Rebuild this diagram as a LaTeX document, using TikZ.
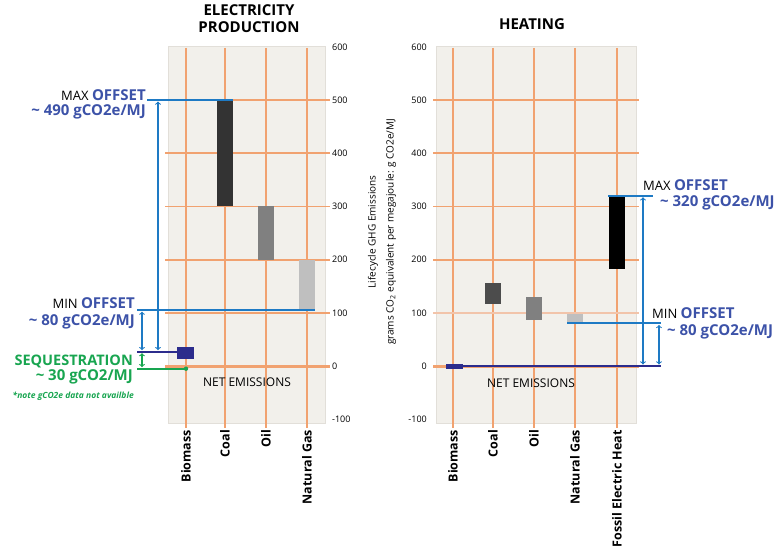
\documentclass[tikz,border=0pt]{standalone}
\usepackage{fontspec}
\setmainfont{Open Sans}
\definecolor{panelbg}{RGB}{242,240,235}
\definecolor{panelrim}{RGB}{226,223,217}
\definecolor{gridorange}{RGB}{241,162,112}
\definecolor{gridpale}{RGB}{242,196,170}
\definecolor{offsetblue}{RGB}{30,122,196}
\definecolor{offsettext}{RGB}{60,82,168}
\definecolor{bionavy}{RGB}{44,44,140}
\definecolor{seqgreen}{RGB}{24,165,80}
\newcommand{\offsetword}[1]{{\fontsize{13}{15}\selectfont #1}\,\,{\fontsize{15}{17}\selectfont\bfseries\color{offsettext}OFFSET}}
\begin{document}
\begin{tikzpicture}[x=1pt, y=0.532pt,
		panel/.style={fill=panelbg, draw=panelrim, line width=0.8pt},
		gridline/.style={draw=gridorange, line width=1.8pt},
		offsetline/.style={draw=offsetblue, line width=2pt},
		gap/.style={draw=offsetblue, line width=1.1pt, <->, shorten <=1.5pt, shorten >=1.5pt},
		lbl/.style={inner sep=0pt},
		title/.style={lbl, align=center, font=\fontsize{15}{17}\selectfont\bfseries},
		cat/.style={lbl, rotate=90, anchor=east, font=\fontsize{12.5}{15}\selectfont\bfseries},
		ticklbl/.style={lbl, font=\fontsize{9}{10}\selectfont},
		amount/.style={lbl, text=offsettext, font=\fontsize{15}{17}\selectfont\bfseries},
		netlbl/.style={lbl, font=\fontsize{12}{14}\selectfont}]
	\useasboundingbox (0,-345.9) rectangle (777,688);
	
	% 背景
	\draw[panel] (168,600) rectangle (325,-107);
	\draw[panel] (436,600) rectangle (636,-107);
	
	% 竖线
	\foreach \x in {186,225,266,307,453,493,534,575,617}
		\draw[gridline] (\x,598) -- (\x,-117);
	
	% 横线
	\foreach \v in {200,300,400,500}{
		\draw[gridline] (165,\v) -- (330,\v);
		\draw[gridline] (433,\v) -- (639,\v);
	}
	\draw[gridline] (165,100) -- (330,100);
	\draw[gridline, draw=gridpale] (433,100) -- (639,100);
	\draw[gridline, line width=3pt] (165,0) -- (330,0);
	\draw[gridline, line width=3pt] (433,0) -- (639,0);
	
	% 刻度
	\foreach \v in {600,500,...,-100}{
		\node[ticklbl, anchor=west] (etick\v) at (332,\v) {\v};
		\node[ticklbl, anchor=east] (htick\v) at (427,\v) {\v};
	}
	
	% 纵轴名称
	\node[lbl, rotate=90, align=center, font=\fontsize{10}{18}\selectfont] (axis) at (382,252)
		{Lifecycle GHG Emissions\\grams CO\textsubscript{2} equivalent per megajoule: g CO2e/MJ};
	
	% 柱
	\foreach \x/\lo/\hi/\c in {217/300/500/black!80, 258/200/300/black!50, 299/105/200/black!25,
		485/117/156/black!70, 526/87/130/black!50, 567/81/98/black!25, 609/183/320/black}
		\fill[\c] (\x,\lo) rectangle (\x+16,\hi);
	\fill[bionavy] (177,13) rectangle (194,36);
	\fill[bionavy] (446,-5) rectangle (463,4);
	
	% 抵消线（电力）
	\coordinate (eMaxA) at (147,500);
	\coordinate (eMaxB) at (233,500);
	\coordinate (eMinA) at (137,105);
	\coordinate (eMinB) at (315,105);
	\coordinate (eBioA) at (137,27);
	\coordinate (eBioB) at (177,27);
	\coordinate (eSeqA) at (137,-5);
	\coordinate (eSeqB) at (186,-5);
	\coordinate (eArr1) at (158,0);
	\coordinate (eArr2) at (142,0);
	\draw[offsetline] (eMaxA) -- (eMaxB);
	\draw[offsetline] (eMinA) -- (eMinB);
	\draw[bionavy, line width=2pt] (eBioA) -- (eBioB);
	\draw[seqgreen, line width=2pt] (eSeqA) -- (eSeqB);
	\fill[seqgreen] (eSeqB) circle (2.2pt);
	\draw[gap] (eMaxA -| eArr1) -- (eBioA -| eArr1);
	\draw[gap] (eMinA -| eArr2) -- (eBioA -| eArr2);
	\draw[gap, draw=seqgreen] (eBioA -| eArr2) -- (eSeqA -| eArr2);
	
	% 抵消线（供热）
	\coordinate (hMaxA) at (608,320);
	\coordinate (hMaxB) at (653,320);
	\coordinate (hMinA) at (567,80);
	\coordinate (hMinB) at (661,80);
	\coordinate (hNetA) at (446,0);
	\coordinate (hNetB) at (661,0);
	\coordinate (hArr1) at (643,0);
	\coordinate (hArr2) at (659,0);
	\draw[offsetline] (hMaxA) -- (hMaxB);
	\draw[offsetline] (hMinA) -- (hMinB);
	\draw[bionavy, line width=2pt] (hNetA) -- (hNetB);
	\draw[gap] (hMaxA -| hArr1) -- (hNetA -| hArr1);
	\draw[gap] (hMinA -| hArr2) -- (hNetA -| hArr2);
	
	% 标题
	\node[title] (elect) at (249,653) {ELECTRICITY\\PRODUCTION};
	\node[title, anchor=base] (heat) at (532,633) {HEATING};
	
	% 文字（电力）
	\node[lbl, anchor=base east] (emaxlbl) at (146,500) {\offsetword{MAX}};
	\node[amount, anchor=base east] (emaxval) at (146,470) {\textasciitilde{} 490 gCO2e/MJ};
	\node[lbl, anchor=base east] (eminlbl) at (135,109) {\offsetword{MIN}};
	\node[amount, anchor=base east] (eminval) at (135,77) {\textasciitilde{} 80 gCO2e/MJ};
	\node[amount, text=seqgreen, font=\fontsize{14.5}{17}\selectfont\bfseries, anchor=base east] (seqlbl) at (133,1) {SEQUESTRATION};
	\node[amount, text=seqgreen, anchor=base east] (seqval) at (133,-28) {\textasciitilde{} 30 gCO2/MJ};
	\node[lbl, text=seqgreen, font=\fontsize{8.5}{10}\selectfont\bfseries\itshape, anchor=base east] (seqnote) at (134,-61) {*note gCO2e data not availble};
	\node[netlbl, anchor=base] (enet) at (247,-37.6) {NET EMISSIONS};
	
	% 文字（供热）
	\node[lbl, anchor=base west] (hmaxlbl) at (643,329.5) {\offsetword{MAX}};
	\node[amount, anchor=base west] (hmaxval) at (660,299) {\textasciitilde{} 320 gCO2e/MJ};
	\node[lbl, anchor=base west] (hminlbl) at (652,90) {\offsetword{MIN}};
	\node[amount, anchor=base west] (hminval) at (667,58) {\textasciitilde{} 80 gCO2e/MJ};
	\node[netlbl, anchor=base] (hnet) at (531,-41) {NET EMISSIONS};
	
	% 类别
	\foreach \x/\name in {186/Biomass, 225/Coal, 266/Oil, 307/Natural Gas}
		\node[cat] (ecat\x) at (\x,-120) {\name};
	\foreach \x/\name in {453/Biomass, 493/Coal, 534/Oil, 575/Natural Gas, 617/Fossil Electric Heat}
		\node[cat] (hcat\x) at (\x,-120) {\name};
\end{tikzpicture}
\end{document}
